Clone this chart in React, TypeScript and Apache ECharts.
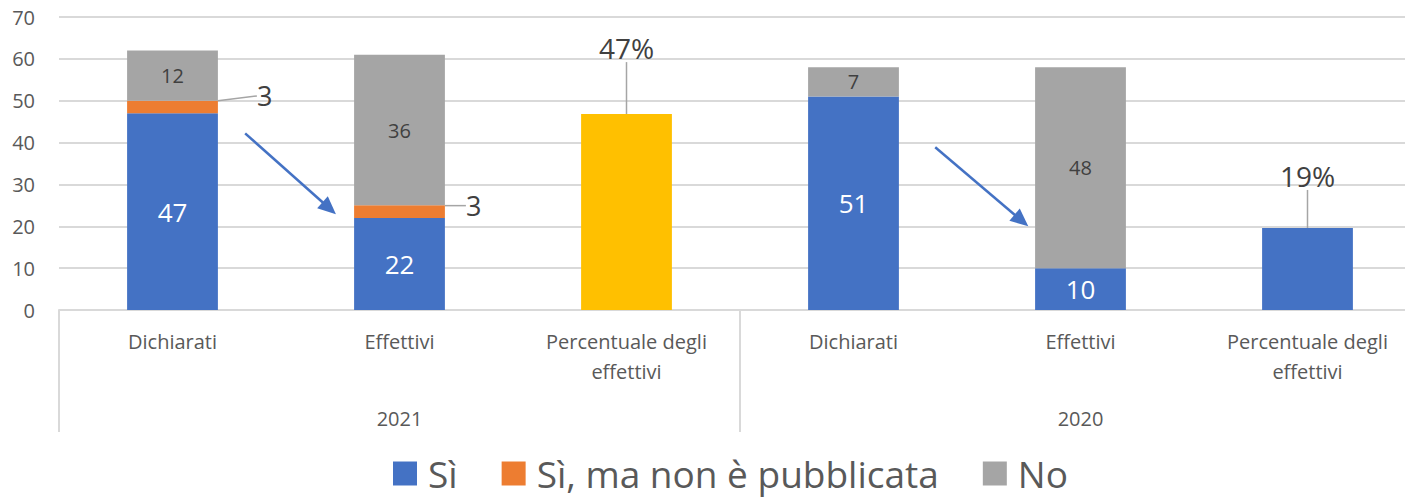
import React, { useEffect, useRef } from 'react';
import * as echarts from 'echarts';

const categories = [
  'Dichiarati',
  'Effettivi',
  'Percentuale degli\neffettivi',
  'Dichiarati',
  'Effettivi',
  'Percentuale degli\neffettivi',
];
const years = ['2021', '2020'];
const seriesNames = ['Sì', 'Sì, ma non è pubblicata', 'No'];
const siValues = [47, 22, null, 51, 10, null];
const siNonPubValues = [3, 3, null, null, null, null];
const noValues = [12, 36, null, 7, 48, null];
const pctValues = [null, null, 46.8, null, null, 19.6];
const pctLabels = ['', '', '47%', '', '', '19%'];
const pctColors = ['', '', '#FFC000', '', '', '#4472C4'];
// arrows: [category position, value] in data space
const arrows = [
  { from: [0.32, 42.2], to: [0.72, 22.9] },
  { from: [3.36, 38.9], to: [3.77, 20.0] },
];

const FONT = '"Open Sans", sans-serif';
const BLUE = '#4472C4';
const ORANGE = '#ED7D31';
const GRAY = '#A5A5A5';
const TXT = '#595959';
const LBL = '#404040';

export default function App() {
  const ref = useRef<HTMLDivElement>(null);
  useEffect(() => {
    if (!ref.current) return;
    const chart = echarts.init(ref.current, undefined, { renderer: 'svg' });
    const option: any = {
      animation: false,
      textStyle: { fontFamily: FONT },
      grid: { left: 59, right: 0, top: 17, bottom: 188 },
      legend: {
        data: seriesNames,
        left: 393,
        top: 455,
        padding: 0,
        icon: 'rect',
        itemWidth: 24,
        itemHeight: 24,
        itemGap: 44,
        selectedMode: false,
        textStyle: {
          fontSize: 37,
          lineHeight: 37,
          color: TXT,
          fontFamily: FONT,
          padding: [0, 0, 0, 6],
        },
      },
      xAxis: [
        {
          type: 'category',
          data: categories,
          position: 'bottom',
          axisLine: { lineStyle: { color: '#d9d9d9', width: 2 } },
          axisTick: { show: false },
          axisLabel: {
            color: TXT,
            fontSize: 20,
            lineHeight: 30,
            margin: 16,
            interval: 0,
            fontFamily: FONT,
          },
        },
        {
          type: 'category',
          data: years,
          position: 'bottom',
          axisLine: { show: false },
          axisTick: { show: true, length: 122, lineStyle: { color: '#d9d9d9', width: 2 } },
          axisLabel: { color: TXT, fontSize: 20, lineHeight: 24, margin: 96, fontFamily: FONT },
        },
      ],
      yAxis: {
        type: 'value',
        min: 0,
        max: 70,
        interval: 10,
        axisLine: { show: false },
        axisTick: { show: false },
        splitLine: { lineStyle: { color: '#d9d9d9', width: 2 } },
        axisLabel: { color: TXT, fontSize: 20, margin: 24, fontFamily: FONT },
      },
      series: [
        {
          name: seriesNames[0],
          type: 'bar',
          stack: 'a',
          barWidth: '40%',
          data: siValues,
          itemStyle: { color: BLUE },
          label: { show: true, position: 'inside', color: '#fff', fontSize: 26, fontFamily: FONT },
        },
        {
          name: seriesNames[1],
          type: 'bar',
          stack: 'a',
          data: siNonPubValues,
          itemStyle: { color: ORANGE },
          label: { show: true, position: 'right', distance: 5, color: LBL, fontSize: 27, fontFamily: FONT },
          labelLayout: (p: any) => (p.dataIndex === 0 ? { dx: 34, dy: -11 } : { dx: 16, dy: -6 }),
          labelLine: { show: true, lineStyle: { color: GRAY, width: 1.5 } },
        },
        {
          name: seriesNames[2],
          type: 'bar',
          stack: 'a',
          data: noValues,
          itemStyle: { color: GRAY },
          label: { show: true, position: 'inside', color: LBL, fontSize: 20, fontFamily: FONT },
        },
        {
          name: 'Percentuale',
          type: 'bar',
          stack: 'a',
          data: pctValues.map((v, i) => (v == null ? null : { value: v, itemStyle: { color: pctColors[i] } })),
          label: {
            show: true,
            position: 'top',
            distance: 8,
            color: LBL,
            fontSize: 28,
            fontFamily: FONT,
            formatter: (p: any) => pctLabels[p.dataIndex],
          },
          labelLayout: (p: any) => ({ dy: p.dataIndex === 2 ? -44 : -30 }),
          labelLine: { show: true, lineStyle: { color: GRAY, width: 1.5 } },
        },
      ],
    };
    chart.setOption(option);

    const toPx = (pos: number[]) => {
      const i = Math.floor(pos[0]);
      const a = chart.convertToPixel({ xAxisIndex: 0, yAxisIndex: 0 }, [i, pos[1]]) as number[];
      const b = chart.convertToPixel({ xAxisIndex: 0, yAxisIndex: 0 }, [i + 1, pos[1]]) as number[];
      return [a[0] + (pos[0] - i) * (b[0] - a[0]), a[1]];
    };
    const graphics: any[] = [];
    arrows.forEach((ar) => {
      const s = toPx(ar.from);
      const e = toPx(ar.to);
      const dx = e[0] - s[0];
      const dy = e[1] - s[1];
      const len = Math.sqrt(dx * dx + dy * dy);
      const ux = dx / len;
      const uy = dy / len;
      const hl = 18;
      const hw = 8;
      const bx = e[0] - ux * hl;
      const by = e[1] - uy * hl;
      graphics.push({
        type: 'line',
        shape: { x1: s[0], y1: s[1], x2: bx + ux * 2, y2: by + uy * 2 },
        style: { stroke: BLUE, lineWidth: 2.5 },
        z: 10,
      });
      graphics.push({
        type: 'polygon',
        shape: {
          points: [
            [e[0], e[1]],
            [bx - uy * hw, by + ux * hw],
            [bx + uy * hw, by - ux * hw],
          ],
        },
        style: { fill: BLUE },
        z: 10,
      });
    });
    chart.setOption({ graphic: graphics });

    return () => chart.dispose();
  }, []);
  return (
    <div style={{ position: 'absolute', left: 0, top: 0, width: 1405, height: 498, overflow: 'hidden' }}>
      <div ref={ref} style={{ width: 1421, height: 498 }} />
    </div>
  );
}
